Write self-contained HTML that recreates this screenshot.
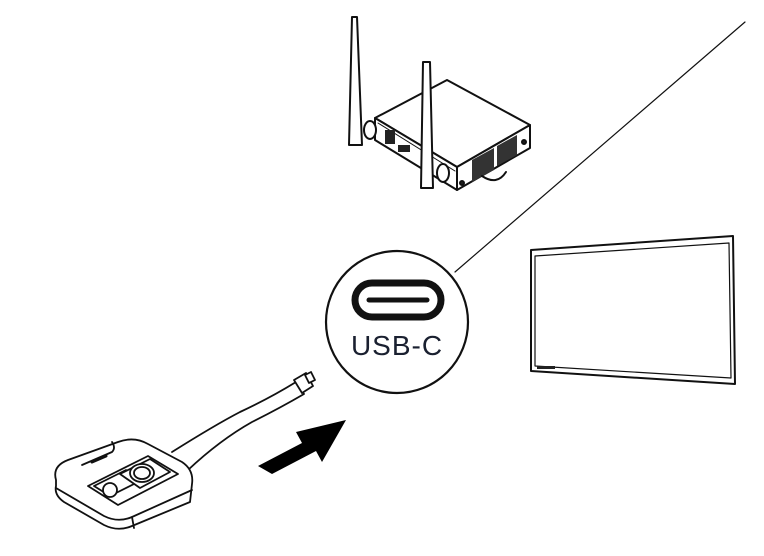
<!DOCTYPE html>
<html><head><style>html,body{margin:0;padding:0;background:#fff}svg{display:block}</style></head>
<body>
<svg width="764" height="556" viewBox="0 0 764 556" xmlns="http://www.w3.org/2000/svg" fill="none" stroke="#111" stroke-linejoin="round" stroke-linecap="round">
<line x1="455" y1="272" x2="745" y2="22" stroke-width="1.2"/>
<g stroke-width="2">
<polygon points="375,118 447,80 530,125 457,167" fill="#fff"/>
<polygon points="375,118 457,167 457,190 375,140" fill="#fff"/>
<polygon points="457,167 530,125 530,148 457,190" fill="#fff"/>
<line x1="378" y1="123" x2="455" y2="171" stroke-width="1"/>
<path d="M472,160 l22,-12 v22 l-22,12z" fill="#333" stroke="none"/>
<path d="M497,146 l20,-11 v20 l-20,11z" fill="#333" stroke="none"/>
<path d="M482,176 q15,10 24,-4" stroke-width="2"/>
<rect x="385" y="130" width="10" height="14" fill="#222" stroke="none"/>
<rect x="398" y="145" width="12" height="7" fill="#222" stroke="none"/>
<circle cx="462" cy="183" r="2" fill="#222"/>
<circle cx="524" cy="142" r="2" fill="#222"/>
<path d="M352,17 L357,17 L362,145 L349,145 Z" fill="#fff"/>
<ellipse cx="370" cy="130" rx="6" ry="9" fill="#fff"/>
<path d="M423,62 L430,62 L433,188 L421,188 Z" fill="#fff"/>
<ellipse cx="443" cy="173" rx="6" ry="9" fill="#fff"/>
</g>
<circle cx="397" cy="322" r="71" stroke-width="2.2" fill="#fff"/>
<rect x="355" y="283" width="86" height="34" rx="17" stroke-width="7"/>
<line x1="369" y1="300" x2="427" y2="300" stroke-width="5"/>
<text x="397" y="355" text-anchor="middle" font-family="Liberation Sans, sans-serif" font-size="28" fill="#1a2030" stroke="none" letter-spacing="1">USB-C</text>
<polygon points="531,250 733,236 735,384 531,371" stroke-width="2"/>
<polygon points="535,256 729,243 731,378 535,366" stroke-width="1.2"/>
<rect x="537" y="366" width="18" height="3" fill="#222" stroke="none"/>
<polygon points="258,466 302,443 296,432 346,420 322,462 316,451 272,474" fill="#000" stroke="none"/>
<g stroke-width="1.8">
<path d="M172,452 Q215,425 240,412 Q270,398 296,382 L304,394 Q280,408 252,422 Q220,440 188,470" fill="#fff"/>
<path d="M294,380 L306,373 L313,386 L302,393 Z" fill="#fff"/>
<path d="M305,375 l6,-3 l4,8 l-6,3z" fill="#fff"/>
<path d="M56,480 Q52,466 68,460 L118,442 Q134,436 148,444 L182,462 Q194,470 192,484 L190,502 L132,526 Q118,532 104,525 L64,502 Q54,495 56,486 Z" fill="#fff"/>
<path d="M56,488 L104,516 Q118,523 132,517 L192,490"/>
<path d="M132,517 L134,528"/>
<path d="M82,465 L112,452 Q116,448 112,442"/>
<path d="M92,462 l14,-6" stroke-width="3"/>
<path d="M88,486 L148,456 L178,474 L118,505 Z" fill="#fff"/>
<path d="M94,486 L126,470 L142,480 L110,496 Z" fill="#fff"/>
<circle cx="110" cy="490" r="7" fill="#fff"/>
<path d="M120,474 L150,459 L170,472 L140,488 Z" fill="#fff"/>
<ellipse cx="142" cy="473" rx="12" ry="9" fill="#fff"/>
<ellipse cx="142" cy="473" rx="8" ry="6" fill="#fff"/>
</g>
</svg>
</body></html>
